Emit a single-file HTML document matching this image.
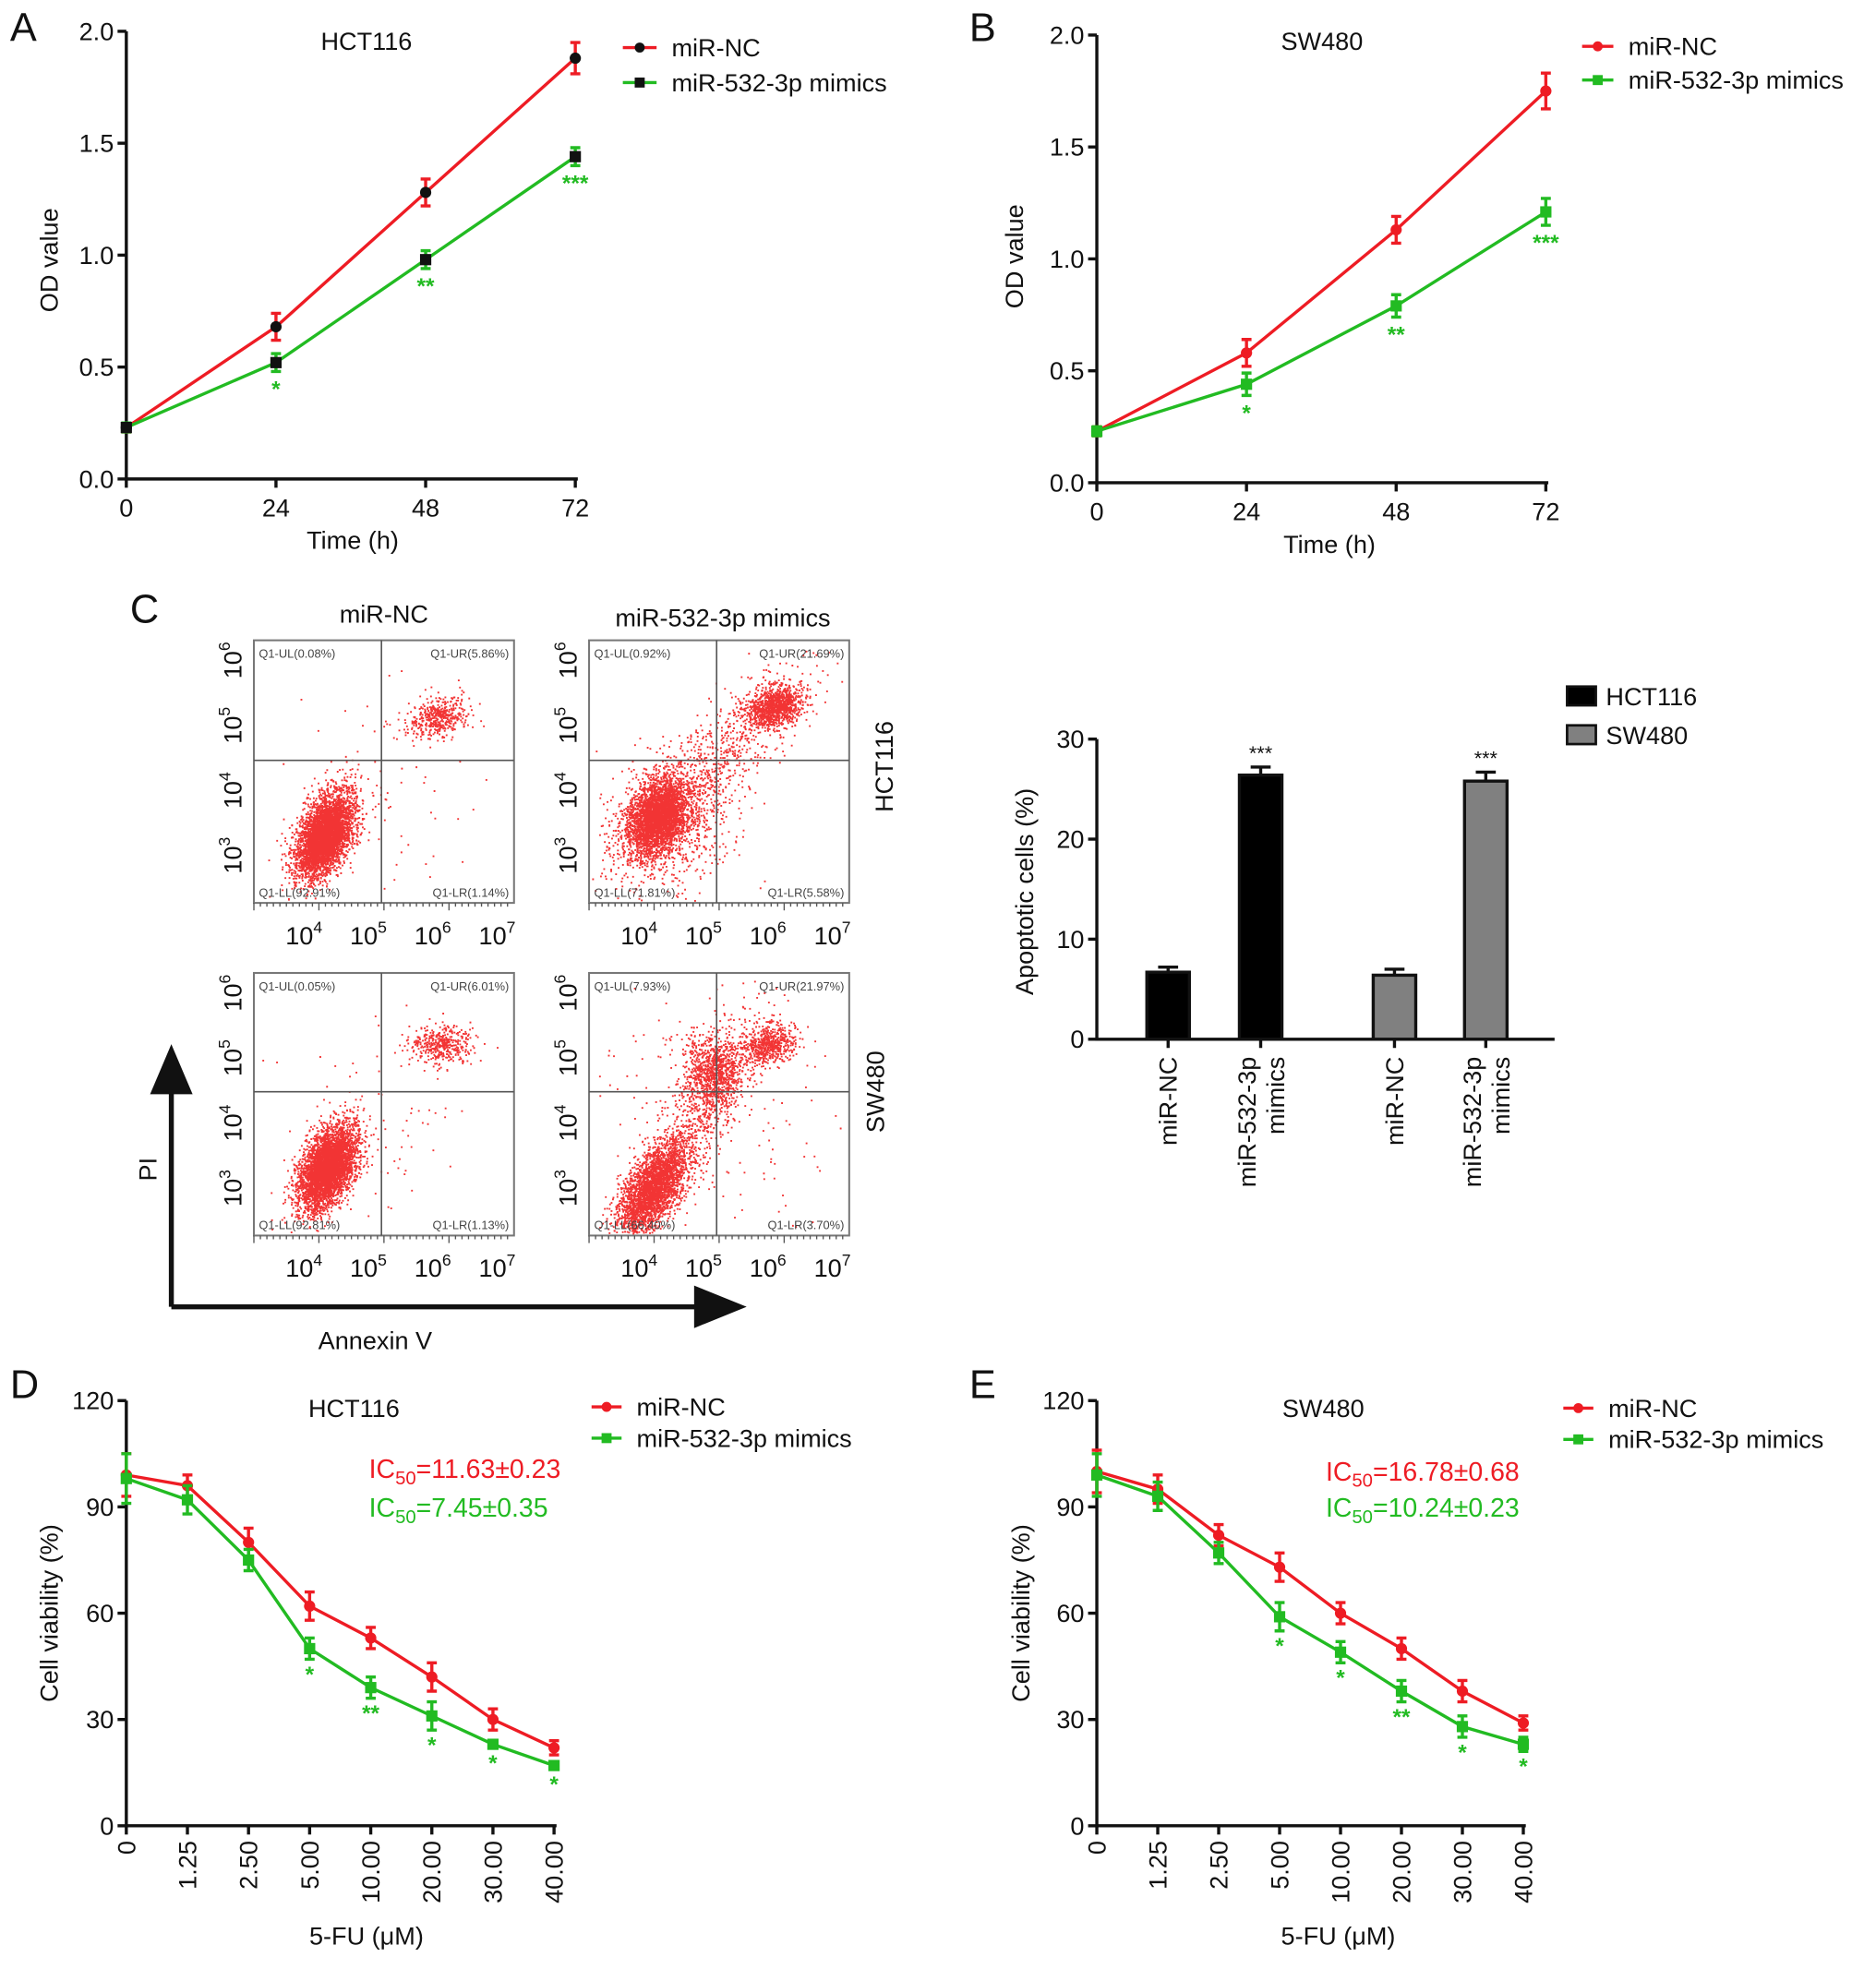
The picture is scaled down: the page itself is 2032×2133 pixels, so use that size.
<!DOCTYPE html>
<html><head><meta charset="utf-8"><style>
html,body{margin:0;padding:0;background:#fff;}
svg{display:block;font-family:"Liberation Sans",sans-serif;}
</style></head><body>
<svg id="fig" xmlns="http://www.w3.org/2000/svg" width="2032" height="2133" viewBox="0 0 1500 1574.5">
<rect width="1500" height="1574.5" fill="#fff"/>
<g id="root"></g>
</svg>
<script>
// ---- Panel A / B data (OD value) ----
const timeCats = [0, 24, 48, 72];
const odTicks = [0.0, 0.5, 1.0, 1.5, 2.0];
const aNC = [0.23, 0.68, 1.28, 1.88];
const aNCerr = [0.02, 0.06, 0.06, 0.07];
const aMim = [0.23, 0.52, 0.98, 1.44];
const aMimErr = [0.02, 0.04, 0.04, 0.04];
const aStars = ["", "*", "**", "***"];
const bNC = [0.23, 0.58, 1.13, 1.75];
const bNCerr = [0.02, 0.06, 0.06, 0.08];
const bMim = [0.23, 0.44, 0.79, 1.21];
const bMimErr = [0.02, 0.05, 0.05, 0.06];
const bStars = ["", "*", "**", "***"];
// ---- Bar chart data ----
const barCats = ["miR-NC", "miR-532-3p mimics", "miR-NC", "miR-532-3p mimics"];
const barVals = [6.7, 26.4, 6.4, 25.8];
const barErrs = [0.5, 0.8, 0.6, 0.9];
const barGroups = ["HCT116", "HCT116", "SW480", "SW480"];
const barStars = ["", "***", "", "***"];
const barTicks = [0, 10, 20, 30];
// ---- Panel D / E data ----
const fuCats = ["0", "1.25", "2.50", "5.00", "10.00", "20.00", "30.00", "40.00"];
const viaTicks = [0, 30, 60, 90, 120];
const dNC = [99, 96, 80, 62, 53, 42, 30, 22];
const dNCerr = [6, 3, 4, 4, 3, 4, 3, 2];
const dMim = [98, 92, 75, 50, 39, 31, 23, 17];
const dMimErr = [7, 4, 3, 3, 3, 4, 1, 1];
const dStars = ["", "", "", "*", "**", "*", "*", "*"];
const eNC = [100, 95, 82, 73, 60, 50, 38, 29];
const eNCerr = [6, 4, 3, 4, 3, 3, 3, 2];
const eMim = [99, 93, 77, 59, 49, 38, 28, 23];
const eMimErr = [6, 4, 3, 4, 3, 3, 3, 2];
const eStars = ["", "", "", "*", "*", "**", "*", "*"];
// ---- Flow cytometry clusters: [fx, fy, sx, sy, rot, count] (fraction of plot) ----
const flowTL = [[0.27,0.74,0.045,0.085,0.45,4200],[0.71,0.29,0.06,0.035,-0.3,450],[0.5,0.55,0.2,0.2,0.6,80]];
const flowTR = [[0.26,0.67,0.05,0.075,0.45,3200],[0.71,0.25,0.055,0.035,-0.4,1100],[0.45,0.5,0.08,0.25,0.75,900],[0.3,0.7,0.12,0.12,0.5,700]];
const flowBL = [[0.28,0.74,0.045,0.085,0.45,4200],[0.72,0.27,0.06,0.035,0,420],[0.5,0.55,0.2,0.2,0.6,80]];
const flowBR = [[0.24,0.82,0.045,0.10,0.55,2800],[0.48,0.37,0.06,0.07,0,900],[0.69,0.27,0.05,0.035,-0.3,550],[0.42,0.55,0.06,0.22,0.5,700],[0.45,0.5,0.25,0.25,0,200]];
const flowQuads = [["Q1-UL(0.08%)","Q1-UR(5.86%)","Q1-LL(92.91%)","Q1-LR(1.14%)"],
 ["Q1-UL(0.92%)","Q1-UR(21.69%)","Q1-LL(71.81%)","Q1-LR(5.58%)"],
 ["Q1-UL(0.05%)","Q1-UR(6.01%)","Q1-LL(92.81%)","Q1-LR(1.13%)"],
 ["Q1-UL(7.93%)","Q1-UR(21.97%)","Q1-LL(66.40%)","Q1-LR(3.70%)"]];
const flowXTicks = [4,5,6,7];
const flowYTicks = [3,4,5,6];

const NS = "http://www.w3.org/2000/svg";
const root = document.getElementById('root');
const RED = "#ee1c24", GREEN = "#22bb22";
function mk(tag, attrs, parent, text){
  const e = document.createElementNS(NS, tag);
  for (const k in attrs) e.setAttribute(k, attrs[k]);
  if (text !== undefined) e.textContent = text;
  (parent || root).appendChild(e);
  return e;
}
function txt(x,y,s,size,opts,parent){
  opts = opts||{};
  const e = mk('text',{x:x,y:y,'font-size':size,'text-anchor':opts.anchor||'middle',fill:opts.fill||'#111'},parent,s);
  if (opts.rot) e.setAttribute('transform','rotate('+opts.rot+' '+x+' '+y+')');
  if (opts.bold) e.setAttribute('font-weight','bold');
  return e;
}

function lineChart(c){
  const g = mk('g',{});
  
  
  const n = c.cats.length;
  const X = i => c.x0 + (c.x1-c.x0)*(c.numeric ? c.cats[i]/c.cats[n-1] : i/(n-1));
  const Y = v => c.y0 - (c.y0-c.y1)*(v - c.ticks[0])/(c.ticks[c.ticks.length-1]-c.ticks[0]);
  const ax = mk('path',{d:`M${c.x0} ${c.y1}V${c.y0}H${c.x1+2}`,stroke:'#111','stroke-width':2.5,fill:'none'},g);
   
  c.ticks.forEach(t=>{
    mk('line',{x1:c.x0-7,x2:c.x0,y1:Y(t),y2:Y(t),stroke:'#111','stroke-width':2.5},g);
    const lb = txt(c.x0-10,Y(t)+7,c.tickFmt(t),20,{anchor:'end'},g);
     
  });
  for(let i=0;i<n;i++){
    mk('line',{x1:X(i),x2:X(i),y1:c.y0,y2:c.y0+7,stroke:'#111','stroke-width':2.5},g);
    let lb;
    if(c.rotLabels) lb = txt(X(i)+7,c.y0+12,String(c.cats[i]),20,{anchor:'end',rot:-90},g);
    else lb = txt(X(i),c.y0+30,String(c.cats[i]),20,{},g);
     
  }
  c.series.forEach(s=>{
    const pts = s.vals.map((v,i)=>X(i)+','+Y(v)).join(' ');
    const pl = mk('polyline',{points:pts,fill:'none',stroke:s.color,'stroke-width':2.5},g);
     
    s.vals.forEach((v,i)=>{
      const e = s.errs[i], x = X(i);
      mk('path',{d:`M${x} ${Y(v+e)}V${Y(v-e)}M${x-4} ${Y(v+e)}H${x+4}M${x-4} ${Y(v-e)}H${x+4}`,stroke:s.color,'stroke-width':2.5,fill:'none'},g);
      let m;
      if(s.shape==='circle') m = mk('circle',{cx:x,cy:Y(v),r:4.5,fill:s.mcolor},g);
      else m = mk('rect',{x:x-4.5,y:Y(v)-4.5,width:9,height:9,fill:s.mcolor},g);
       
      if(s.stars && s.stars[i]){
        const st = txt(x,Y(v-e)+c.starOff,s.stars[i],18,{fill:GREEN,bold:true},g);
         
      }
    });
  });
  const t = txt(c.title[0],c.title[1],c.titleText,20,{},g);
   
  const yl = txt(c.ylab[0],c.ylab[1],c.ylabText,20,{rot:-90},g);
   
  const xl = txt(c.xlab[0],c.xlab[1],c.xlabText,20,{},g);
   
  c.series.forEach((s,k)=>{
    const ly = c.leg[1] + k*c.leg[3];
    const le = mk('g',{},g);
     
    mk('line',{x1:c.leg[0],x2:c.leg[0]+c.leg[2],y1:ly,y2:ly,stroke:s.color,'stroke-width':2.5},le);
    const mx = c.leg[0]+c.leg[2]/2;
    if(s.shape==='circle') mk('circle',{cx:mx,cy:ly,r:4,fill:s.mcolor},le);
    else mk('rect',{x:mx-4,y:ly-4,width:8,height:8,fill:s.mcolor},le);
    txt(c.leg[0]+c.leg[2]+12,ly+7,s.label,20,{anchor:'start'},le);
  });
  const L = txt(c.letter[0],c.letter[1],c.letterText,32,{anchor:'start'},g);
   
  return {g,X,Y};
}

const f1 = t=>t.toFixed(1), f0 = t=>String(t);
lineChart({name:'panel-a-chart',cats:timeCats,numeric:true,ticks:odTicks,tickFmt:f1,x0:101,x1:460,y0:383,y1:25,
  series:[{label:'miR-NC',vals:aNC,errs:aNCerr,color:RED,mcolor:'#111',shape:'circle'},
          {label:'miR-532-3p mimics',vals:aMim,errs:aMimErr,color:GREEN,mcolor:'#111',shape:'square',stars:aStars}],
  starOff:20,title:[293,40],titleText:'HCT116',ylab:[46,208],ylabText:'OD value',xlab:[282,439],xlabText:'Time (h)',
  leg:[498,38,27,28],letter:[8,33],letterText:'A'});
lineChart({name:'panel-b-chart',cats:timeCats,numeric:true,ticks:odTicks,tickFmt:f1,x0:877,x1:1236,y0:386,y1:28,
  series:[{label:'miR-NC',vals:bNC,errs:bNCerr,color:RED,mcolor:RED,shape:'circle'},
          {label:'miR-532-3p mimics',vals:bMim,errs:bMimErr,color:GREEN,mcolor:GREEN,shape:'square',stars:bStars}],
  starOff:20,title:[1057,40],titleText:'SW480',ylab:[818,205],ylabText:'OD value',xlab:[1063,442],xlabText:'Time (h)',
  leg:[1265,37,25,27],letter:[775,33],letterText:'B'});
lineChart({name:'panel-d-chart',cats:fuCats,numeric:false,ticks:viaTicks,tickFmt:f0,x0:101,x1:443,y0:1460,y1:1120,rotLabels:true,
  series:[{label:'miR-NC',vals:dNC,errs:dNCerr,color:RED,mcolor:RED,shape:'circle'},
          {label:'miR-532-3p mimics',vals:dMim,errs:dMimErr,color:GREEN,mcolor:GREEN,shape:'square',stars:dStars}],
  starOff:18,title:[283,1133],titleText:'HCT116',ylab:[46,1290],ylabText:'Cell viability (%)',xlab:[293,1555],xlabText:'5-FU (\u03bcM)',
  leg:[473,1125,24,25],letter:[8,1118],letterText:'D'});
lineChart({name:'panel-e-chart',cats:fuCats,numeric:false,ticks:viaTicks,tickFmt:f0,x0:877,x1:1218,y0:1460,y1:1120,rotLabels:true,
  series:[{label:'miR-NC',vals:eNC,errs:eNCerr,color:RED,mcolor:RED,shape:'circle'},
          {label:'miR-532-3p mimics',vals:eMim,errs:eMimErr,color:GREEN,mcolor:GREEN,shape:'square',stars:eStars}],
  starOff:18,title:[1058,1133],titleText:'SW480',ylab:[823,1290],ylabText:'Cell viability (%)',xlab:[1070,1555],xlabText:'5-FU (\u03bcM)',
  leg:[1250,1126,24,25],letter:[775,1118],letterText:'E'});
function ic50(x,y,val,color){
  const t = mk('text',{x:x,y:y,'font-size':21,fill:color,'text-anchor':'start'});
   
  mk('tspan',{},t,'IC');
  mk('tspan',{'font-size':15,dy:5},t,'50');
  mk('tspan',{dy:-5},t,'='+val);
}
ic50(295,1182,'11.63\u00b10.23',RED); ic50(295,1213,'7.45\u00b10.35',GREEN);
ic50(1060,1184,'16.78\u00b10.68',RED); ic50(1060,1213,'10.24\u00b10.23',GREEN);

// ---- Bar chart ----
(function(){
  const g = mk('g',{});
   
  const x0=877,x1=1243,y0=831,y1=591;
  const centers = [934,1008,1115,1188];
  const Y = v => y0 - (y0-y1)*v/barTicks[barTicks.length-1];
  mk('path',{d:`M${x0} ${y1}V${y0}H${x1}`,stroke:'#111','stroke-width':2.5,fill:'none'},g);
  barTicks.forEach(t=>{
    mk('line',{x1:x0-7,x2:x0,y1:Y(t),y2:Y(t),stroke:'#111','stroke-width':2.5},g);
    txt(x0-10,Y(t)+7,String(t),20,{anchor:'end'},g);
  });
  barVals.forEach((v,i)=>{
    const cx = centers[i], fill = barGroups[i]==='HCT116' ? '#000' : '#808080';
    const e = barErrs[i];
    mk('path',{d:`M${cx} ${Y(v)}V${Y(v+e)}M${cx-8} ${Y(v+e)}H${cx+8}`,stroke:'#111','stroke-width':2.5},g);
    const r = mk('rect',{x:cx-17,y:Y(v),width:34,height:y0-Y(v),fill:fill,stroke:'#111','stroke-width':2.5},g);
     
    mk('line',{x1:cx,x2:cx,y1:y0,y2:y0+7,stroke:'#111','stroke-width':2.5},g);
    if(barStars[i]) txt(cx,Y(v+e)-6,barStars[i],16,{},g);
    const parts = barCats[i].split(' ');
    if(parts.length===1) txt(cx+7,y0+14,parts[0],20,{anchor:'end',rot:-90},g);
    else { txt(cx-4,y0+14,parts[0],20,{anchor:'end',rot:-90},g); txt(cx+19,y0+14,parts[1],20,{anchor:'end',rot:-90},g); }
  });
  txt(826,713,'Apoptotic cells (%)',20,{rot:-90},g);
  [['HCT116','#000',549],['SW480','#808080',580]].forEach(l=>{
    const le = mk('g',{},g);
     
    mk('rect',{x:1253,y:l[2],width:23,height:15,fill:l[1],stroke:'#111','stroke-width':2},le);
    txt(1284,l[2]+15,l[0],20,{anchor:'start'},le);
  });
})();

// ---- Flow plots ----
let seed = 12345;
function rnd(){ seed = (seed*1103515245+12345) & 0x7fffffff; return seed/0x7fffffff; }
function gauss(){ let u=rnd()||1e-6, v=rnd(); return Math.sqrt(-2*Math.log(u))*Math.cos(2*Math.PI*v); }
function flow(name,bx,by,clusters,quads,vx,hy){
  const g = mk('g',{});
   
  const w=208,h=210;
  mk('rect',{x:bx,y:by,width:w,height:h,fill:'#fff',stroke:'#777','stroke-width':1.5},g);
  let d='';
  clusters.forEach(c=>{
    for(let k=0;k<c[5];k++){
      const a=gauss()*c[2], b=gauss()*c[3];
      const px = c[0] + a*Math.cos(c[4]) - b*Math.sin(c[4]);
      const py = c[1] + a*Math.sin(c[4]) + b*Math.cos(c[4]);
      if(px<0.01||px>0.99||py<0.01||py>0.99) continue;
      const X=(bx+px*w).toFixed(1), Y=(by+py*h).toFixed(1);
      d+=`M${X} ${Y}h1.4v1.4h-1.4z`;
    }
  });
  mk('path',{d:d,fill:'#f01010','fill-opacity':0.85},g);
  mk('line',{x1:bx+vx,x2:bx+vx,y1:by,y2:by+h,stroke:'#555','stroke-width':1.2},g);
  mk('line',{x1:bx,x2:bx+w,y1:by+hy,y2:by+hy,stroke:'#555','stroke-width':1.2},g);
  txt(bx+4,by+14,quads[0],9.5,{anchor:'start',fill:'#444'},g);
  txt(bx+w-4,by+14,quads[1],9.5,{anchor:'end',fill:'#444'},g);
  txt(bx+4,by+h-5,quads[2],9.5,{anchor:'start',fill:'#444'},g);
  txt(bx+w-4,by+h-5,quads[3],9.5,{anchor:'end',fill:'#444'},g);
  for(let k=0;k<40;k++){ const tx=bx+k*w/40; mk('line',{x1:tx,x2:tx,y1:by+h,y2:by+h+(k%10===0?6:3),stroke:'#555','stroke-width':1},g); }
  flowXTicks.forEach((t,i)=>{
    const x = bx+40+i*51.5;
    const e = txt(x,by+h+33,'10',20,{},g); mk('tspan',{'font-size':13,dy:-9},e,String(t));
  });
  flowYTicks.forEach((t,i)=>{
    const y = by+h-38-i*52;
    const e = txt(bx-10,y,'10',20,{rot:-90},g); mk('tspan',{'font-size':13,dy:-9},e,String(t));
  });
}
flow('flow-hct116-nc',203,512,flowTL,flowQuads[0],102,96);
flow('flow-hct116-mimics',471,512,flowTR,flowQuads[1],102,96);
flow('flow-sw480-nc',203,778,flowBL,flowQuads[2],102,95);
flow('flow-sw480-mimics',471,778,flowBR,flowQuads[3],102,95);
txt(307,498,'miR-NC',20); txt(578,501,'miR-532-3p mimics',20);
txt(714,613,'HCT116',20,{rot:-90}); txt(707,873,'SW480',20,{rot:-90});
txt(104,498,'C',32,{anchor:'start'});
const ar = mk('g',{});
 
mk('path',{d:'M137 1045V870M137 1045H560',stroke:'#111','stroke-width':4,fill:'none'},ar);
mk('polygon',{points:'137,835 120,875 154,875',fill:'#111'},ar);
mk('polygon',{points:'597,1045 555,1028 555,1062',fill:'#111'},ar);
txt(125,935,'PI',20,{rot:-90}); txt(300,1079,'Annexin V',20);
</script>
</body></html>
